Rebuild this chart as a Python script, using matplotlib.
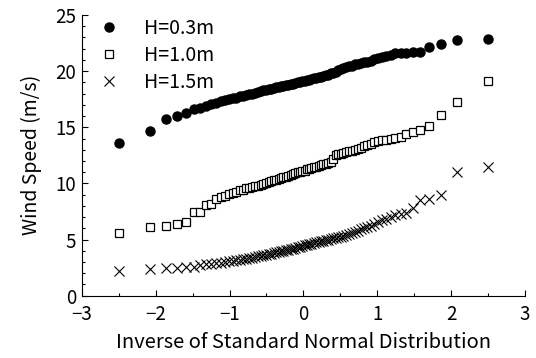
import numpy as np
import matplotlib.pyplot as plt
from matplotlib.ticker import MultipleLocator
from statistics import NormalDist

plt.rcParams['font.family'] = ['Noto Sans CJK JP', 'DejaVu Sans']

# wind speed samples, sorted (m/s), 80 per height
h03 = [13.6, 14.7, 15.75, 16.05, 16.3, 16.6, 16.75, 16.9, 17.05, 17.2,
       17.3, 17.4, 17.5, 17.6, 17.65, 17.75, 17.8, 17.85, 17.95, 18.0,
       18.1, 18.15, 18.2, 18.3, 18.35, 18.4, 18.45, 18.5, 18.55, 18.6,
       18.65, 18.7, 18.75, 18.8, 18.85, 18.9, 18.95, 19.0, 19.05, 19.1,
       19.15, 19.2, 19.25, 19.3, 19.35, 19.4, 19.45, 19.5, 19.6, 19.65,
       19.7, 19.8, 19.85, 19.95, 20.1, 20.2, 20.3, 20.35, 20.45, 20.5,
       20.6, 20.65, 20.7, 20.8, 20.85, 20.95, 21.05, 21.15, 21.25, 21.35,
       21.45, 21.6, 21.65, 21.65, 21.7, 21.7, 22.15, 22.4, 22.75, 22.85]
h10 = [5.55, 6.15, 6.25, 6.35, 6.6, 7.45, 7.5, 8.05, 8.15, 8.6,
       8.75, 8.85, 9.05, 9.15, 9.25, 9.4, 9.45, 9.55, 9.6, 9.65,
       9.75, 9.8, 9.9, 9.95, 10.0, 10.1, 10.2, 10.3, 10.35, 10.4,
       10.5, 10.55, 10.6, 10.7, 10.75, 10.85, 10.9, 11.0, 11.05, 11.1,
       11.15, 11.25, 11.3, 11.35, 11.45, 11.5, 11.55, 11.65, 11.7, 11.75,
       11.8, 11.9, 12.2, 12.5, 12.6, 12.65, 12.7, 12.8, 12.85, 12.9,
       13.0, 13.1, 13.2, 13.3, 13.45, 13.55, 13.65, 13.75, 13.85, 13.9,
       13.95, 14.05, 14.1, 14.4, 14.6, 14.75, 15.1, 16.1, 17.25, 19.15]
h15 = [2.2, 2.35, 2.45, 2.5, 2.55, 2.6, 2.7, 2.8, 2.85, 2.9,
       2.95, 3.0, 3.05, 3.1, 3.15, 3.2, 3.25, 3.3, 3.35, 3.4,
       3.45, 3.5, 3.55, 3.6, 3.65, 3.7, 3.75, 3.8, 3.85, 3.9,
       3.95, 4.0, 4.05, 4.1, 4.15, 4.2, 4.25, 4.3, 4.35, 4.45,
       4.5, 4.55, 4.6, 4.65, 4.7, 4.75, 4.8, 4.85, 4.9, 4.95,
       5.0, 5.05, 5.1, 5.15, 5.2, 5.25, 5.35, 5.4, 5.5, 5.6,
       5.7, 5.8, 5.9, 6.0, 6.1, 6.25, 6.4, 6.55, 6.7, 6.85,
       7.0, 7.15, 7.25, 7.4, 7.8, 8.5, 8.6, 8.95, 11.05, 11.45]

n = len(h03)
# normal scores of plotting positions (i-0.5)/n
z = [NormalDist().inv_cdf((i + 0.5) / n) for i in range(n)]

fig = plt.figure(figsize=(5.36, 3.58), dpi=100)
ax = fig.add_axes([0.153, 0.174, 0.826, 0.784])

ax.plot(z, h03, 'o', color='black', ms=6.5, label='H=0.3m')
ax.plot(z, h10, 's', mfc='white', mec='black', mew=0.9, ms=5.5, label='H=1.0m')
ax.plot(z, h15, 'x', color='black', mew=0.8, ms=7, label='H=1.5m')

ax.set_xlim(-3, 3)
ax.set_ylim(0, 25)
ax.xaxis.set_major_locator(MultipleLocator(1))
ax.xaxis.set_minor_locator(MultipleLocator(0.5))
ax.yaxis.set_major_locator(MultipleLocator(5))
ax.yaxis.set_minor_locator(MultipleLocator(1))
ax.tick_params(which='both', direction='in', labelsize=13.5, width=0.8)
ax.tick_params(which='major', length=4)
ax.tick_params(which='minor', length=2)
ax.tick_params(axis='x', pad=6)
ax.tick_params(axis='y', pad=4)
ax.spines['top'].set_visible(False)
ax.spines['right'].set_visible(False)

ax.set_xlabel('Inverse of Standard Normal Distribution', fontsize=14.5, labelpad=5)
ax.set_ylabel('Wind Speed (m/s)', fontsize=14, labelpad=10)

ax.legend(loc='upper left', frameon=False, fontsize=14, handletextpad=1.2,
          labelspacing=0.32, borderaxespad=0.0, borderpad=0.0,
          handlelength=1.2, bbox_to_anchor=(0.035, 0.99))

fig.savefig('out.png', dpi=100)
